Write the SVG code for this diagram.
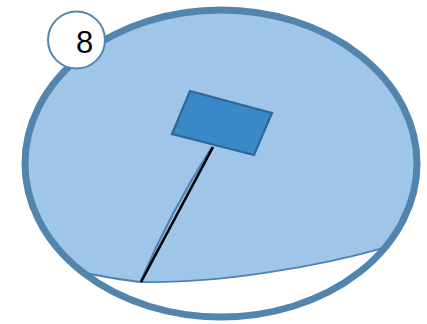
<svg xmlns="http://www.w3.org/2000/svg" width="427" height="324" viewBox="0 0 427 324">
<style>
.fill{fill:#9fc6e8;stroke:#4f81b3;stroke-width:1.8}
.ring{fill:none;stroke:#5285ae;stroke-width:7}
.rect{fill:#3a88c7;stroke:#2c6797;stroke-width:2.2}
.edge{fill:none;stroke:#4f81b3;stroke-width:2.2}
.pole{fill:none;stroke:#000;stroke-width:2.6}
.badge{fill:#fff;stroke:#5285ae;stroke-width:2}
.num{font-family:"Liberation Sans",Arial,sans-serif;font-size:31px;fill:#000;text-anchor:middle}
</style>
<rect width="427" height="324" fill="#fff"/>
<g id="region">
<path class="fill" d="M 90 277 A 196 153.5 0 1 1 385 247.6 C 320 266 220 284 140 282 Q 115 279 90 274 Z"/>
</g>
<g id="outline">
<ellipse class="ring" cx="221" cy="163.5" rx="196" ry="153.5"/>
</g>
<g id="connectors">
<path class="edge" d="M 140.5 282 Q 170.5 211.5 212 147"/>
<line class="pole" x1="141" y1="282" x2="213" y2="147"/>
</g>
<g id="marker">
<polygon class="rect" points="190,91 272,113 254,155 172,134"/>
</g>
<g id="badge">
<circle class="badge" cx="76.5" cy="40" r="28.5"/>
<text class="num" x="84.5" y="52.5">8</text>
</g>
</svg>
